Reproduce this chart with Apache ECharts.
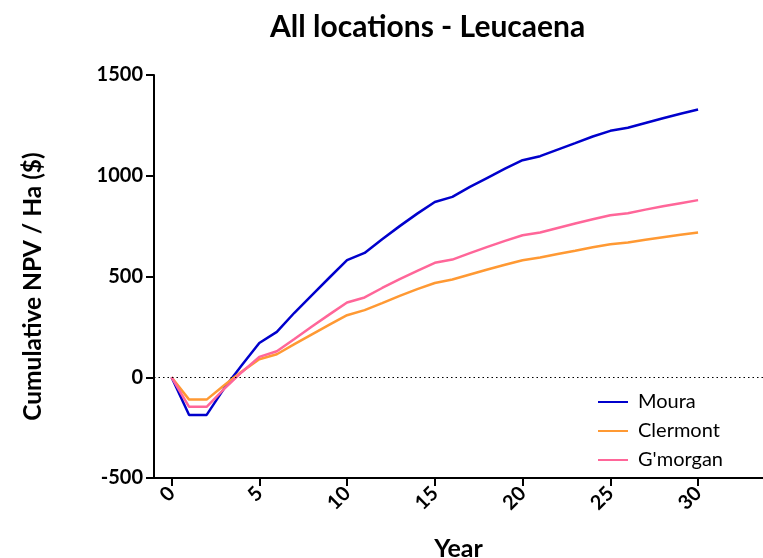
<!DOCTYPE html>
<html><head><meta charset="utf-8">
<script src="https://cdn.jsdelivr.net/npm/echarts@6/dist/echarts.min.js"></script>
<style>html,body{margin:0;padding:0;background:#fff}#c{width:763px;height:558px}</style>
</head><body><div id="c"></div>
<script>
const years = [0,1,2,3,4,5,6,7,8,9,10,11,12,13,14,15,16,17,18,19,20,21,22,23,24,25,26,27,28,29,30];
const moura = [0,-187,-187,-55,60,170,225,320,408,495,581,617,685,750,812,870,895,945,990,1035,1077,1097,1130,1162,1195,1223,1238,1262,1285,1308,1329];
const clermont = [0,-111,-111,-40,28,89,114,164,213,261,308,333,368,404,437,468,485,510,535,558,581,594,612,628,645,660,669,682,695,707,718];
const gmorgan = [0,-147,-147,-58,25,101,129,190,252,312,371,396,443,487,528,568,584,616,647,677,705,718,741,763,784,804,814,832,849,864,879];
const xTicks = [0,5,10,15,20,25,30];
const yTicks = [-500,0,500,1000,1500];
const seriesNames = ['Moura','Clermont',"G'morgan"];
const colors = ['#0000CC','#FF9933','#FF6699'];

const FONT = 'Lato';
const chart = echarts.init(document.getElementById('c'));
const mk = (name, vals, color, withRef) => {
  const s = {
    name, type: 'line', data: years.map((y,i)=>[y, vals[i]]),
    showSymbol: false, symbol: 'none', color,
    lineStyle: {width: 2.5, color}, z: 3
  };
  if (withRef) {
    s.markLine = {silent: true, symbol: 'none', label: {show: false},
      lineStyle: {color: '#000', type: [1.5, 3], width: 1}, data: [{yAxis: 0}]};
  }
  return s;
};
chart.setOption({
  animation: false,
  title: {text: 'All locations - Leucaena', left: 265, top: 7, itemGap: 0,
    textStyle: {fontFamily: FONT, fontWeight: 'bold', fontSize: 30, color: '#000'}},
  grid: {left: 154, right: 0, top: 75, bottom: 80, containLabel: false, outerBoundsMode: 'none'},
  legend: {orient: 'vertical', left: 593, top: 387, itemWidth: 30, itemHeight: 10, itemGap: 9,
    icon: 'path://M0,4 L30,4 L30,6 L0,6 Z',
    textStyle: {fontFamily: FONT, fontSize: 20, color: '#000', padding: [0,0,0,5]},
    data: seriesNames},
  xAxis: {type: 'value', min: -1, max: 33.7,
    name: 'Year', nameLocation: 'middle', nameGap: 58,
    nameTextStyle: {fontFamily: FONT, fontWeight: 'bold', fontSize: 25, color: '#000'},
    axisLine: {show: true, onZero: false, lineStyle: {color: '#000', width: 2}},
    axisTick: {show: true, length: 8, lineStyle: {color: '#000', width: 2}, customValues: xTicks},
    axisLabel: {rotate: 45, margin: 12, fontFamily: FONT, fontWeight: 'bold', fontSize: 20, color: '#000', customValues: xTicks},
    splitLine: {show: false}},
  yAxis: {type: 'value', min: -500, max: 1500, interval: 500,
    name: 'Cumulative NPV / Ha ($)', nameLocation: 'middle', nameGap: 108,
    nameTextStyle: {fontFamily: FONT, fontWeight: 'bold', fontSize: 24.5, color: '#000', padding: [0, 20, 0, 0]},
    axisLine: {show: true, onZero: false, lineStyle: {color: '#000', width: 2}},
    axisTick: {show: true, length: 8, lineStyle: {color: '#000', width: 2}, customValues: yTicks},
    axisLabel: {margin: 11, fontFamily: FONT, fontWeight: 'bold', fontSize: 20, color: '#000', customValues: yTicks, formatter: v => String(v)},
    splitLine: {show: false}},
  series: [mk(seriesNames[0], moura, colors[0], true), mk(seriesNames[1], clermont, colors[1]), mk(seriesNames[2], gmorgan, colors[2])]
});
</script></body></html>
